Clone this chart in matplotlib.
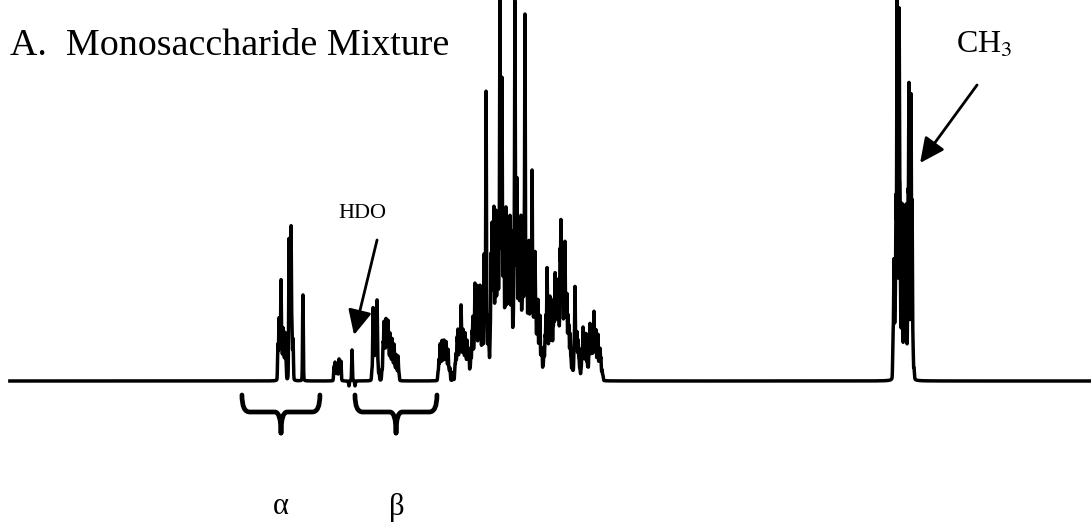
import numpy as np
import matplotlib.pyplot as plt
from matplotlib.path import Path
from matplotlib.patches import PathPatch

plt.rcParams['font.family'] = ['Liberation Serif', 'DejaVu Serif']
plt.rcParams['mathtext.fontset'] = 'stix'

# line positions (ppm) and intensities
alpha_ppm = [5.279, 5.272, 5.266, 5.259, 5.253, 5.246, 5.240, 5.233, 5.227,
             5.207, 5.201, 5.194, 5.188, 5.181, 5.117]
alpha_int = [35, 60, 30, 98, 30, 50, 25, 46, 20,
             138, 60, 150, 50, 40, 86]

minor_ppm = [4.916, 4.909, 4.903, 4.896, 4.890, 4.883, 4.877, 4.871]
minor_int = [14, 18, 8, 15, 6, 21, 12, 19]

hdo_ppm = [4.819, 4.799, 4.780]
hdo_int = [-5, 31, -5]

beta_ppm = [4.670, 4.663, 4.657, 4.650, 4.644, 4.637, 4.631, 4.624,
            4.605, 4.598, 4.592, 4.586, 4.579, 4.573, 4.566, 4.560, 4.553,
            4.547, 4.540, 4.534, 4.527, 4.521, 4.514, 4.508, 4.501, 4.495]
beta_int = [10, 71, 30, 45, 25, 79, 15, 8,
            10, 35, 55, 40, 58, 45, 57, 30, 45,
            25, 40, 20, 35, 15, 25, 10, 24, 8]

ring_ppm = [4.242, 4.236, 4.229, 4.223, 4.216, 4.210, 4.203, 4.197, 4.190,
            4.184, 4.177, 4.171, 4.165, 4.145,
            4.132, 4.126, 4.119, 4.113, 4.106, 4.100, 4.093, 4.087, 4.080,
            4.074, 4.067, 4.061, 4.054, 4.048, 4.042, 4.035,
            4.029, 4.022, 4.016, 4.009, 4.003, 3.996, 3.990, 3.983, 3.977,
            3.970, 3.964, 3.957, 3.951,
            3.944, 3.938, 3.931, 3.925, 3.918, 3.912, 3.905,
            3.899, 3.892, 3.886, 3.880, 3.873, 3.867, 3.860, 3.854, 3.847,
            3.841, 3.834, 3.828, 3.821, 3.815, 3.808, 3.802, 3.795, 3.789,
            3.782, 3.776, 3.769, 3.763, 3.756, 3.750, 3.744, 3.737, 3.731,
            3.724, 3.718, 3.711, 3.705, 3.698, 3.692, 3.685, 3.679, 3.672,
            3.666, 3.659, 3.653, 3.646, 3.640, 3.633, 3.627, 3.620, 3.614,
            3.608, 3.601, 3.595, 3.588, 3.582, 3.575, 3.569, 3.562, 3.556,
            3.549, 3.543, 3.536, 3.530, 3.523, 3.517, 3.510, 3.504, 3.497,
            3.491, 3.484, 3.478, 3.472, 3.465, 3.459, 3.452, 3.446, 3.439,
            3.433, 3.426, 3.420, 3.413, 3.407, 3.400, 3.394, 3.387, 3.381,
            3.374, 3.368, 3.361, 3.355, 3.348, 3.342, 3.335, 3.329, 3.323,
            3.316, 3.310, 3.303, 3.297, 3.290, 3.284, 3.277, 3.271, 3.264,
            3.258, 3.251, 3.245, 3.238, 3.232, 3.225, 3.219, 3.212, 3.206,
            3.199, 3.193, 3.187, 3.180, 3.174]
ring_int = [8, 20, 35, 22, 38, 25, 38, 28, 37,
            20, 30, 10, 12, 8,
            15, 25, 40, 48, 30, 45, 72, 35, 48,
            30, 45, 25, 38, 20, 30, 10,
            25, 45, 60, 35, 93, 50, 90, 40, 60,
            90, 45, 55, 30,
            120, 60, 284, 40, 60, 28, 30,
            120, 148, 90, 164, 80, 160, 95, 150, 110,
            370, 120, 290, 95, 150, 75, 164, 78, 140,
            90, 155, 80, 140, 45, 120, 368, 100, 191,
            80, 150, 90, 155, 70, 140, 100, 356, 90,
            125, 75, 131, 72, 115, 201, 80, 100, 118,
            70, 62, 75, 40, 61, 25, 30, 12, 30,
            40, 60, 108, 40, 70, 78, 45, 65, 50,
            75, 101, 60, 85, 94, 55, 120, 150, 110,
            75, 105, 130, 70, 80, 60, 50, 44, 20,
            15, 8, 30, 91, 40, 45, 38, 20, 10,
            8, 30, 51, 25, 40, 44, 20, 12, 35,
            54, 30, 45, 35, 66, 30, 48, 25, 44,
            20, 30, 21, 10, 5]

ch3_ppm = [1.295, 1.289, 1.282, 1.276, 1.269, 1.263, 1.256, 1.250, 1.244,
           1.237, 1.231, 1.224, 1.218, 1.211, 1.205, 1.198, 1.192, 1.185,
           1.179, 1.172, 1.166, 1.159]
ch3_int = [40, 116, 60, 171, 376, 80, 358, 171, 40,
           171, 25, 165, 30, 171, 22, 171, 285, 40,
           278, 171, 30, 10]

pos = np.array(alpha_ppm + minor_ppm + hdo_ppm + beta_ppm + ring_ppm + ch3_ppm)
amp = np.array(alpha_int + minor_int + hdo_int + beta_int + ring_int + ch3_int)

sig = 0.0023   # gaussian width, ppm
hwl = 0.0032   # lorentzian half width, ppm
x = np.linspace(7.015, 0.0, 60000)
y = np.zeros_like(x)
for p, a in zip(pos, amp):
    d = x - p
    y += a * (0.9 * np.exp(-0.5 * (d / sig) ** 2) + 0.1 / (1 + (d / hwl) ** 2))

fig = plt.figure(figsize=(10.91, 5.23), dpi=100)
ax = fig.add_axes([0, 0, 1, 1])
ax.plot(x, y, color='black', lw=2.5, solid_joinstyle='round')
ax.set_xlim(7.079, 0.013)
ax.set_ylim(-142, 381)
ax.axis('off')


def brace(x0, x1, xc):
    # curly bracket under a group of signals
    top, mid, tip = -14, -31, -52
    verts = [(x0, top), (x0, mid), (x0 - 0.05, mid), (xc + 0.04, mid),
             (xc, mid), (xc, tip),
             (x1, top), (x1, mid), (x1 + 0.05, mid), (xc - 0.04, mid),
             (xc, mid), (xc, tip)]
    codes = [Path.MOVETO, Path.CURVE3, Path.CURVE3, Path.LINETO,
             Path.CURVE3, Path.CURVE3] * 2
    ax.add_patch(PathPatch(Path(verts, codes), fill=False, lw=3.4,
                           capstyle='round', joinstyle='round'))


brace(5.512, 5.007, 5.259)
brace(4.780, 4.249, 4.514)

ax.text(10 / 1091, 1 - 55 / 523, 'A.  Monosaccharide Mixture',
        transform=ax.transAxes, fontsize=27.4, va='baseline', ha='left')
ax.text(956 / 1091, 1 - 53 / 523, 'CH$_3$', transform=ax.transAxes,
        fontsize=23, va='baseline', ha='left')
ax.text(362 / 1091, 1 - 214 / 523, 'HDO', transform=ax.transAxes,
        fontsize=16, va='center', ha='center')
ax.text(281 / 1091, 1 - 507 / 523, 'α', transform=ax.transAxes,
        fontsize=22, va='center', ha='center')
ax.text(397 / 1091, 1 - 507 / 523, 'β', transform=ax.transAxes,
        fontsize=22, va='center', ha='center')

arrow = dict(arrowstyle='-|>,head_length=0.75,head_width=0.36', lw=2,
             color='black', shrinkA=0, shrinkB=0, mutation_scale=20)
ax.annotate('', xy=(4.786, 46), xytext=(4.637, 141), arrowprops=arrow)
ax.annotate('', xy=(1.120, 218), xytext=(0.751, 296), arrowprops=arrow)

fig.savefig('out.png', dpi=100)
